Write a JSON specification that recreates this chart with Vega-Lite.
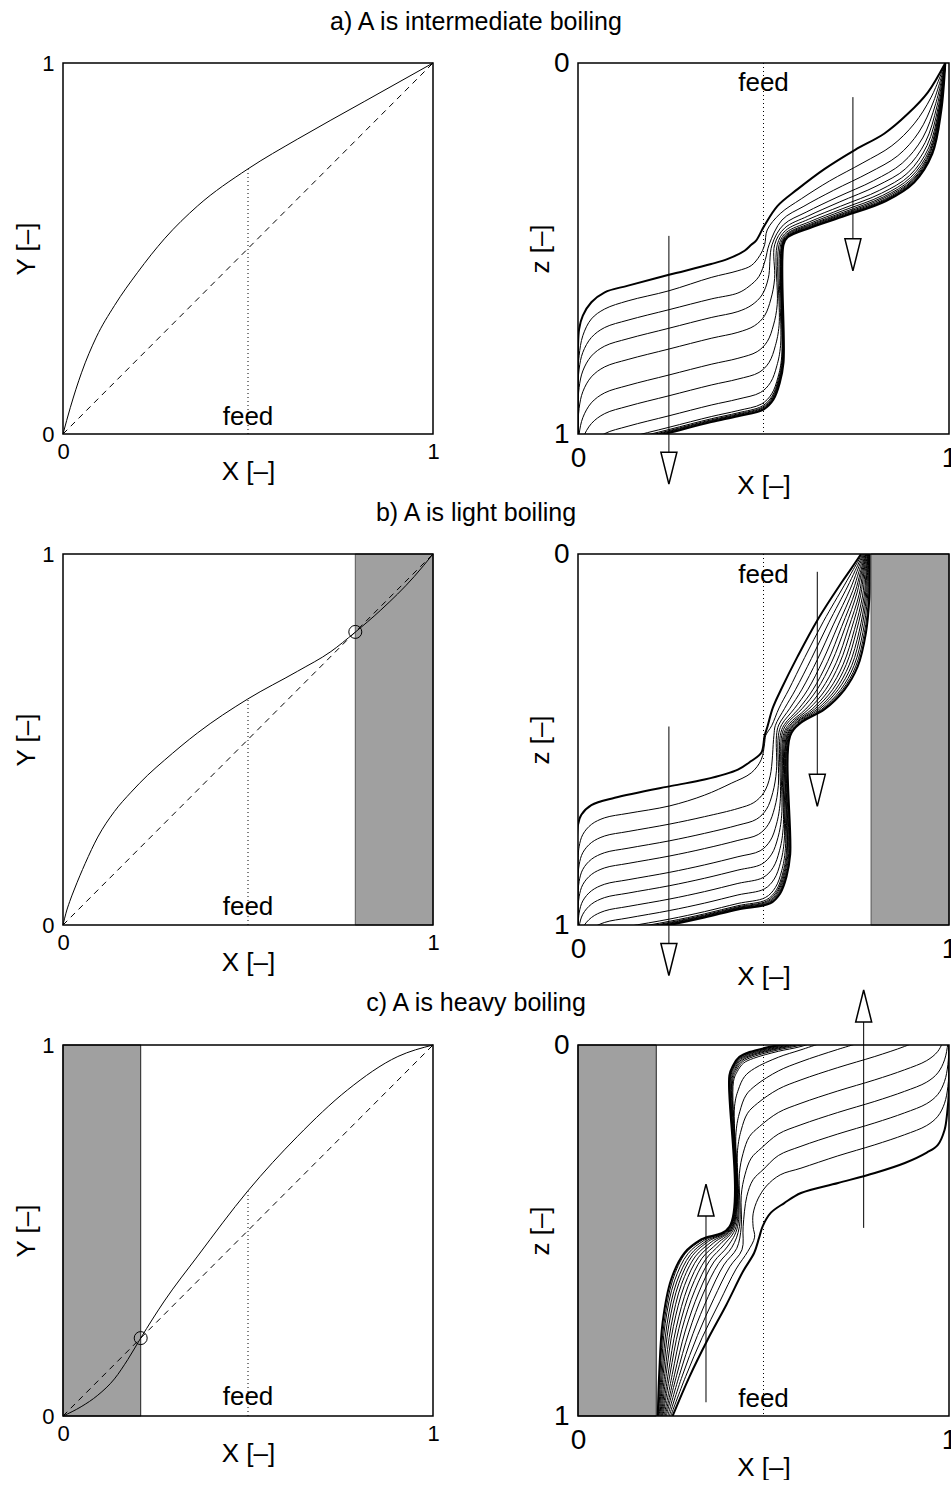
{
"$schema":"https://vega.github.io/schema/vega-lite/v6.json",
"background":"white",
"padding":{"left":13,"top":10,"right":0,"bottom":0},
"config":{"font":"Liberation Sans","view":{"stroke":null},
"axis":{"grid":false,"ticks":false,"tickSize":0,"domain":false,"titleFontSize":26,"titleFontWeight":"normal","labelColor":"black","titleColor":"black","format":"d"},
"title":{"fontSize":25,"fontWeight":"normal","color":"black"}},
"datasets":{
"aL":[{"x":0,"y":0},{"x":0.02,"y":0.072},{"x":0.05,"y":0.165},{"x":0.09,"y":0.261},{"x":0.139,"y":0.346},{"x":0.202,"y":0.436},{"x":0.274,"y":0.526},{"x":0.364,"y":0.615},{"x":0.499,"y":0.714},{"x":0.634,"y":0.795},{"x":0.814,"y":0.896},{"x":1,"y":1}],
"bL":[{"x":0,"y":0},{"x":0.008,"y":0.032},{"x":0.018,"y":0.063},{"x":0.031,"y":0.097},{"x":0.06,"y":0.166},{"x":0.094,"y":0.237},{"x":0.139,"y":0.306},{"x":0.184,"y":0.358},{"x":0.229,"y":0.404},{"x":0.274,"y":0.444},{"x":0.364,"y":0.518},{"x":0.499,"y":0.609},{"x":0.634,"y":0.684},{"x":0.724,"y":0.737},{"x":0.787,"y":0.787},{"x":0.859,"y":0.849},{"x":0.949,"y":0.939},{"x":1,"y":1}],
"cL":[{"x":0,"y":0},{"x":0.049,"y":0.025},{"x":0.094,"y":0.056},{"x":0.139,"y":0.1},{"x":0.175,"y":0.152},{"x":0.21,"y":0.21},{"x":0.274,"y":0.31},{"x":0.364,"y":0.431},{"x":0.499,"y":0.606},{"x":0.634,"y":0.754},{"x":0.769,"y":0.879},{"x":0.905,"y":0.969},{"x":1,"y":1}],
"aR":[
{"c":0,"x":0.99,"y":0},{"c":0,"x":0.943,"y":0.079},{"c":0,"x":0.889,"y":0.137},{"c":0,"x":0.826,"y":0.19},{"c":0,"x":0.747,"y":0.234},{"c":0,"x":0.664,"y":0.286},{"c":0,"x":0.592,"y":0.34},{"c":0,"x":0.538,"y":0.385},{"c":0,"x":0.502,"y":0.439},{"c":0,"x":0.48,"y":0.479},{"c":0,"x":0.467,"y":0.49},{"c":0,"x":0.449,"y":0.506},{"c":0,"x":0.404,"y":0.528},{"c":0,"x":0.359,"y":0.542},{"c":0,"x":0.245,"y":0.571},{"c":0,"x":0.135,"y":0.6},{"c":0,"x":0.072,"y":0.618},{"c":0,"x":0.036,"y":0.645},{"c":0,"x":0.013,"y":0.681},{"c":0,"x":0.003,"y":0.717},{"c":0,"x":0,"y":0.77},{"c":0,"x":0,"y":1.05},
{"c":1,"x":0.99,"y":0},{"c":1,"x":0.952,"y":0.092},{"c":1,"x":0.906,"y":0.164},{"c":1,"x":0.846,"y":0.223},{"c":1,"x":0.768,"y":0.269},{"c":1,"x":0.678,"y":0.318},{"c":1,"x":0.602,"y":0.366},{"c":1,"x":0.545,"y":0.406},{"c":1,"x":0.51,"y":0.45},{"c":1,"x":0.503,"y":0.49},{"c":1,"x":0.49,"y":0.519},{"c":1,"x":0.467,"y":0.546},{"c":1,"x":0.431,"y":0.56},{"c":1,"x":0.359,"y":0.578},{"c":1,"x":0.245,"y":0.614},{"c":1,"x":0.135,"y":0.641},{"c":1,"x":0.072,"y":0.663},{"c":1,"x":0.036,"y":0.69},{"c":1,"x":0.013,"y":0.735},{"c":1,"x":0.003,"y":0.789},{"c":1,"x":0,"y":0.85},{"c":1,"x":0,"y":1.05},
{"c":2,"x":0.99,"y":0},{"c":2,"x":0.959,"y":0.102},{"c":2,"x":0.919,"y":0.186},{"c":2,"x":0.862,"y":0.25},{"c":2,"x":0.784,"y":0.296},{"c":2,"x":0.689,"y":0.343},{"c":2,"x":0.609,"y":0.386},{"c":2,"x":0.55,"y":0.423},{"c":2,"x":0.515,"y":0.49},{"c":2,"x":0.505,"y":0.53},{"c":2,"x":0.488,"y":0.575},{"c":2,"x":0.461,"y":0.602},{"c":2,"x":0.431,"y":0.62},{"c":2,"x":0.359,"y":0.636},{"c":2,"x":0.245,"y":0.665},{"c":2,"x":0.135,"y":0.693},{"c":2,"x":0.072,"y":0.713},{"c":2,"x":0.036,"y":0.74},{"c":2,"x":0.013,"y":0.78},{"c":2,"x":0.003,"y":0.825},{"c":2,"x":0,"y":0.885},{"c":2,"x":0,"y":1.05},
{"c":3,"x":0.99,"y":0},{"c":3,"x":0.964,"y":0.11},{"c":3,"x":0.929,"y":0.202},{"c":3,"x":0.874,"y":0.27},{"c":3,"x":0.797,"y":0.317},{"c":3,"x":0.698,"y":0.362},{"c":3,"x":0.615,"y":0.402},{"c":3,"x":0.554,"y":0.436},{"c":3,"x":0.523,"y":0.49},{"c":3,"x":0.513,"y":0.58},{"c":3,"x":0.496,"y":0.625},{"c":3,"x":0.469,"y":0.652},{"c":3,"x":0.431,"y":0.67},{"c":3,"x":0.359,"y":0.686},{"c":3,"x":0.245,"y":0.715},{"c":3,"x":0.135,"y":0.743},{"c":3,"x":0.072,"y":0.763},{"c":3,"x":0.036,"y":0.79},{"c":3,"x":0.013,"y":0.83},{"c":3,"x":0.003,"y":0.875},{"c":3,"x":0,"y":0.935},{"c":3,"x":0,"y":1.05},
{"c":4,"x":0.99,"y":0},{"c":4,"x":0.968,"y":0.115},{"c":4,"x":0.936,"y":0.214},{"c":4,"x":0.883,"y":0.285},{"c":4,"x":0.806,"y":0.331},{"c":4,"x":0.704,"y":0.375},{"c":4,"x":0.619,"y":0.413},{"c":4,"x":0.557,"y":0.445},{"c":4,"x":0.53,"y":0.49},{"c":4,"x":0.53,"y":0.581},{"c":4,"x":0.52,"y":0.636},{"c":4,"x":0.503,"y":0.681},{"c":4,"x":0.476,"y":0.708},{"c":4,"x":0.431,"y":0.726},{"c":4,"x":0.359,"y":0.742},{"c":4,"x":0.245,"y":0.771},{"c":4,"x":0.135,"y":0.799},{"c":4,"x":0.072,"y":0.819},{"c":4,"x":0.036,"y":0.846},{"c":4,"x":0.013,"y":0.886},{"c":4,"x":0.003,"y":0.931},{"c":4,"x":0,"y":0.991},{"c":4,"x":0,"y":1.05},
{"c":5,"x":0.99,"y":0},{"c":5,"x":0.971,"y":0.119},{"c":5,"x":0.941,"y":0.222},{"c":5,"x":0.889,"y":0.296},{"c":5,"x":0.813,"y":0.343},{"c":5,"x":0.708,"y":0.386},{"c":5,"x":0.622,"y":0.421},{"c":5,"x":0.559,"y":0.452},{"c":5,"x":0.537,"y":0.49},{"c":5,"x":0.537,"y":0.651},{"c":5,"x":0.527,"y":0.706},{"c":5,"x":0.51,"y":0.751},{"c":5,"x":0.483,"y":0.778},{"c":5,"x":0.431,"y":0.796},{"c":5,"x":0.359,"y":0.812},{"c":5,"x":0.245,"y":0.841},{"c":5,"x":0.135,"y":0.869},{"c":5,"x":0.072,"y":0.889},{"c":5,"x":0.036,"y":0.916},{"c":5,"x":0.013,"y":0.956},{"c":5,"x":0.003,"y":1.001},{"c":5,"x":0,"y":1.06},
{"c":6,"x":0.99,"y":0},{"c":6,"x":0.973,"y":0.122},{"c":6,"x":0.945,"y":0.229},{"c":6,"x":0.894,"y":0.303},{"c":6,"x":0.818,"y":0.351},{"c":6,"x":0.712,"y":0.393},{"c":6,"x":0.624,"y":0.428},{"c":6,"x":0.561,"y":0.457},{"c":6,"x":0.542,"y":0.49},{"c":6,"x":0.542,"y":0.707},{"c":6,"x":0.532,"y":0.762},{"c":6,"x":0.515,"y":0.807},{"c":6,"x":0.488,"y":0.834},{"c":6,"x":0.431,"y":0.852},{"c":6,"x":0.359,"y":0.868},{"c":6,"x":0.245,"y":0.897},{"c":6,"x":0.135,"y":0.925},{"c":6,"x":0.072,"y":0.945},{"c":6,"x":0.036,"y":0.972},{"c":6,"x":0.013,"y":1.012},{"c":6,"x":0.003,"y":1.057},
{"c":7,"x":0.99,"y":0},{"c":7,"x":0.974,"y":0.124},{"c":7,"x":0.948,"y":0.233},{"c":7,"x":0.897,"y":0.308},{"c":7,"x":0.821,"y":0.357},{"c":7,"x":0.714,"y":0.398},{"c":7,"x":0.626,"y":0.432},{"c":7,"x":0.562,"y":0.461},{"c":7,"x":0.546,"y":0.49},{"c":7,"x":0.546,"y":0.761},{"c":7,"x":0.536,"y":0.816},{"c":7,"x":0.519,"y":0.861},{"c":7,"x":0.492,"y":0.888},{"c":7,"x":0.431,"y":0.906},{"c":7,"x":0.359,"y":0.922},{"c":7,"x":0.245,"y":0.951},{"c":7,"x":0.135,"y":0.979},{"c":7,"x":0.072,"y":0.999},{"c":7,"x":0.036,"y":1.026},{"c":7,"x":0.013,"y":1.066},
{"c":8,"x":0.99,"y":0},{"c":8,"x":0.975,"y":0.126},{"c":8,"x":0.95,"y":0.236},{"c":8,"x":0.9,"y":0.312},{"c":8,"x":0.823,"y":0.361},{"c":8,"x":0.716,"y":0.402},{"c":8,"x":0.627,"y":0.435},{"c":8,"x":0.563,"y":0.463},{"c":8,"x":0.549,"y":0.49},{"c":8,"x":0.549,"y":0.792},{"c":8,"x":0.539,"y":0.847},{"c":8,"x":0.522,"y":0.892},{"c":8,"x":0.495,"y":0.919},{"c":8,"x":0.431,"y":0.937},{"c":8,"x":0.359,"y":0.953},{"c":8,"x":0.245,"y":0.982},{"c":8,"x":0.135,"y":1.01},{"c":8,"x":0.072,"y":1.03},
{"c":9,"x":0.99,"y":0},{"c":9,"x":0.976,"y":0.127},{"c":9,"x":0.951,"y":0.239},{"c":9,"x":0.902,"y":0.315},{"c":9,"x":0.825,"y":0.364},{"c":9,"x":0.717,"y":0.405},{"c":9,"x":0.628,"y":0.437},{"c":9,"x":0.564,"y":0.465},{"c":9,"x":0.55,"y":0.49},{"c":9,"x":0.55,"y":0.798},{"c":9,"x":0.54,"y":0.853},{"c":9,"x":0.523,"y":0.898},{"c":9,"x":0.496,"y":0.925},{"c":9,"x":0.431,"y":0.943},{"c":9,"x":0.359,"y":0.959},{"c":9,"x":0.245,"y":0.988},{"c":9,"x":0.135,"y":1.016},{"c":9,"x":0.072,"y":1.036},
{"c":10,"x":0.99,"y":0},{"c":10,"x":0.977,"y":0.128},{"c":10,"x":0.953,"y":0.241},{"c":10,"x":0.903,"y":0.317},{"c":10,"x":0.827,"y":0.367},{"c":10,"x":0.718,"y":0.407},{"c":10,"x":0.629,"y":0.439},{"c":10,"x":0.564,"y":0.467},{"c":10,"x":0.551,"y":0.49},{"c":10,"x":0.551,"y":0.801},{"c":10,"x":0.541,"y":0.856},{"c":10,"x":0.524,"y":0.901},{"c":10,"x":0.497,"y":0.928},{"c":10,"x":0.431,"y":0.946},{"c":10,"x":0.359,"y":0.962},{"c":10,"x":0.245,"y":0.991},{"c":10,"x":0.135,"y":1.019},{"c":10,"x":0.072,"y":1.039},
{"c":11,"x":0.99,"y":0},{"c":11,"x":0.977,"y":0.129},{"c":11,"x":0.954,"y":0.243},{"c":11,"x":0.904,"y":0.319},{"c":11,"x":0.828,"y":0.369},{"c":11,"x":0.719,"y":0.409},{"c":11,"x":0.629,"y":0.441},{"c":11,"x":0.564,"y":0.468},{"c":11,"x":0.552,"y":0.49},{"c":11,"x":0.552,"y":0.803},{"c":11,"x":0.542,"y":0.858},{"c":11,"x":0.525,"y":0.903},{"c":11,"x":0.498,"y":0.93},{"c":11,"x":0.431,"y":0.948},{"c":11,"x":0.359,"y":0.964},{"c":11,"x":0.245,"y":0.993},{"c":11,"x":0.135,"y":1.021},{"c":11,"x":0.072,"y":1.041},
{"c":12,"x":0.99,"y":0},{"c":12,"x":0.978,"y":0.13},{"c":12,"x":0.954,"y":0.244},{"c":12,"x":0.905,"y":0.321},{"c":12,"x":0.829,"y":0.371},{"c":12,"x":0.719,"y":0.411},{"c":12,"x":0.63,"y":0.442},{"c":12,"x":0.565,"y":0.469},{"c":12,"x":0.553,"y":0.49},{"c":12,"x":0.553,"y":0.805},{"c":12,"x":0.543,"y":0.86},{"c":12,"x":0.526,"y":0.905},{"c":12,"x":0.499,"y":0.932},{"c":12,"x":0.431,"y":0.95},{"c":12,"x":0.359,"y":0.966},{"c":12,"x":0.245,"y":0.995},{"c":12,"x":0.135,"y":1.023},
{"c":13,"x":0.99,"y":0},{"c":13,"x":0.979,"y":0.13},{"c":13,"x":0.955,"y":0.245},{"c":13,"x":0.906,"y":0.322},{"c":13,"x":0.83,"y":0.372},{"c":13,"x":0.72,"y":0.412},{"c":13,"x":0.63,"y":0.443},{"c":13,"x":0.565,"y":0.47},{"c":13,"x":0.554,"y":0.49},{"c":13,"x":0.554,"y":0.807},{"c":13,"x":0.544,"y":0.862},{"c":13,"x":0.527,"y":0.907},{"c":13,"x":0.5,"y":0.934},{"c":13,"x":0.431,"y":0.952},{"c":13,"x":0.359,"y":0.968},{"c":13,"x":0.245,"y":0.997},{"c":13,"x":0.135,"y":1.025}
],
"bR":[
{"c":0,"x":0.763,"y":0},{"c":0,"x":0.736,"y":0.04},{"c":0,"x":0.709,"y":0.079},{"c":0,"x":0.646,"y":0.177},{"c":0,"x":0.592,"y":0.276},{"c":0,"x":0.547,"y":0.366},{"c":0,"x":0.525,"y":0.415},{"c":0,"x":0.511,"y":0.464},{"c":0,"x":0.503,"y":0.49},{"c":0,"x":0.494,"y":0.536},{"c":0,"x":0.467,"y":0.558},{"c":0,"x":0.431,"y":0.581},{"c":0,"x":0.341,"y":0.608},{"c":0,"x":0.252,"y":0.625},{"c":0,"x":0.099,"y":0.657},{"c":0,"x":0.036,"y":0.677},{"c":0,"x":0.009,"y":0.703},{"c":0,"x":0,"y":0.73},{"c":0,"x":0,"y":1.05},
{"c":1,"x":0.766,"y":0},{"c":1,"x":0.742,"y":0.042},{"c":1,"x":0.718,"y":0.084},{"c":1,"x":0.662,"y":0.181},{"c":1,"x":0.611,"y":0.279},{"c":1,"x":0.568,"y":0.366},{"c":1,"x":0.542,"y":0.415},{"c":1,"x":0.522,"y":0.463},{"c":1,"x":0.506,"y":0.489},{"c":1,"x":0.503,"y":0.51},{"c":1,"x":0.494,"y":0.554},{"c":1,"x":0.467,"y":0.59},{"c":1,"x":0.413,"y":0.618},{"c":1,"x":0.341,"y":0.65},{"c":1,"x":0.247,"y":0.679},{"c":1,"x":0.135,"y":0.699},{"c":1,"x":0.072,"y":0.711},{"c":1,"x":0.036,"y":0.729},{"c":1,"x":0.013,"y":0.756},{"c":1,"x":0.003,"y":0.789},{"c":1,"x":0,"y":0.84},{"c":1,"x":0,"y":1.05},
{"c":2,"x":0.768,"y":0},{"c":2,"x":0.747,"y":0.045},{"c":2,"x":0.726,"y":0.089},{"c":2,"x":0.676,"y":0.185},{"c":2,"x":0.629,"y":0.282},{"c":2,"x":0.586,"y":0.366},{"c":2,"x":0.557,"y":0.416},{"c":2,"x":0.532,"y":0.462},{"c":2,"x":0.528,"y":0.49},{"c":2,"x":0.518,"y":0.598},{"c":2,"x":0.501,"y":0.643},{"c":2,"x":0.474,"y":0.67},{"c":2,"x":0.431,"y":0.686},{"c":2,"x":0.341,"y":0.708},{"c":2,"x":0.247,"y":0.728},{"c":2,"x":0.135,"y":0.748},{"c":2,"x":0.072,"y":0.76},{"c":2,"x":0.036,"y":0.778},{"c":2,"x":0.013,"y":0.805},{"c":2,"x":0.003,"y":0.838},{"c":2,"x":0,"y":0.888},{"c":2,"x":0,"y":1.05},
{"c":3,"x":0.77,"y":0},{"c":3,"x":0.752,"y":0.047},{"c":3,"x":0.734,"y":0.094},{"c":3,"x":0.689,"y":0.189},{"c":3,"x":0.645,"y":0.285},{"c":3,"x":0.603,"y":0.366},{"c":3,"x":0.571,"y":0.416},{"c":3,"x":0.541,"y":0.461},{"c":3,"x":0.535,"y":0.49},{"c":3,"x":0.535,"y":0.583},{"c":3,"x":0.525,"y":0.643},{"c":3,"x":0.508,"y":0.688},{"c":3,"x":0.481,"y":0.715},{"c":3,"x":0.431,"y":0.731},{"c":3,"x":0.341,"y":0.753},{"c":3,"x":0.247,"y":0.773},{"c":3,"x":0.135,"y":0.793},{"c":3,"x":0.072,"y":0.805},{"c":3,"x":0.036,"y":0.823},{"c":3,"x":0.013,"y":0.85},{"c":3,"x":0.003,"y":0.883},{"c":3,"x":0,"y":0.933},{"c":3,"x":0,"y":1.05},
{"c":4,"x":0.772,"y":0},{"c":4,"x":0.757,"y":0.048},{"c":4,"x":0.741,"y":0.098},{"c":4,"x":0.701,"y":0.192},{"c":4,"x":0.66,"y":0.287},{"c":4,"x":0.619,"y":0.366},{"c":4,"x":0.583,"y":0.417},{"c":4,"x":0.549,"y":0.46},{"c":4,"x":0.54,"y":0.49},{"c":4,"x":0.54,"y":0.624},{"c":4,"x":0.53,"y":0.684},{"c":4,"x":0.513,"y":0.729},{"c":4,"x":0.486,"y":0.756},{"c":4,"x":0.431,"y":0.772},{"c":4,"x":0.341,"y":0.794},{"c":4,"x":0.247,"y":0.814},{"c":4,"x":0.135,"y":0.834},{"c":4,"x":0.072,"y":0.846},{"c":4,"x":0.036,"y":0.864},{"c":4,"x":0.013,"y":0.891},{"c":4,"x":0.003,"y":0.924},{"c":4,"x":0,"y":0.974},{"c":4,"x":0,"y":1.05},
{"c":5,"x":0.774,"y":0},{"c":5,"x":0.761,"y":0.05},{"c":5,"x":0.747,"y":0.102},{"c":5,"x":0.711,"y":0.195},{"c":5,"x":0.673,"y":0.29},{"c":5,"x":0.633,"y":0.366},{"c":5,"x":0.595,"y":0.417},{"c":5,"x":0.556,"y":0.46},{"c":5,"x":0.545,"y":0.49},{"c":5,"x":0.545,"y":0.668},{"c":5,"x":0.535,"y":0.728},{"c":5,"x":0.518,"y":0.773},{"c":5,"x":0.491,"y":0.8},{"c":5,"x":0.431,"y":0.816},{"c":5,"x":0.341,"y":0.838},{"c":5,"x":0.247,"y":0.858},{"c":5,"x":0.135,"y":0.878},{"c":5,"x":0.072,"y":0.89},{"c":5,"x":0.036,"y":0.908},{"c":5,"x":0.013,"y":0.935},{"c":5,"x":0.003,"y":0.968},{"c":5,"x":0,"y":1.018},
{"c":6,"x":0.776,"y":0},{"c":6,"x":0.764,"y":0.051},{"c":6,"x":0.752,"y":0.105},{"c":6,"x":0.72,"y":0.198},{"c":6,"x":0.684,"y":0.291},{"c":6,"x":0.644,"y":0.366},{"c":6,"x":0.604,"y":0.417},{"c":6,"x":0.562,"y":0.459},{"c":6,"x":0.549,"y":0.49},{"c":6,"x":0.549,"y":0.704},{"c":6,"x":0.539,"y":0.764},{"c":6,"x":0.522,"y":0.809},{"c":6,"x":0.495,"y":0.836},{"c":6,"x":0.431,"y":0.852},{"c":6,"x":0.341,"y":0.874},{"c":6,"x":0.247,"y":0.894},{"c":6,"x":0.135,"y":0.914},{"c":6,"x":0.072,"y":0.926},{"c":6,"x":0.036,"y":0.944},{"c":6,"x":0.013,"y":0.971},{"c":6,"x":0.003,"y":1.004},{"c":6,"x":0,"y":1.054},
{"c":7,"x":0.777,"y":0},{"c":7,"x":0.767,"y":0.053},{"c":7,"x":0.758,"y":0.108},{"c":7,"x":0.729,"y":0.2},{"c":7,"x":0.696,"y":0.293},{"c":7,"x":0.656,"y":0.366},{"c":7,"x":0.614,"y":0.418},{"c":7,"x":0.569,"y":0.458},{"c":7,"x":0.553,"y":0.49},{"c":7,"x":0.553,"y":0.74},{"c":7,"x":0.543,"y":0.8},{"c":7,"x":0.526,"y":0.845},{"c":7,"x":0.499,"y":0.872},{"c":7,"x":0.431,"y":0.888},{"c":7,"x":0.341,"y":0.91},{"c":7,"x":0.247,"y":0.93},{"c":7,"x":0.135,"y":0.95},{"c":7,"x":0.072,"y":0.962},{"c":7,"x":0.036,"y":0.98},{"c":7,"x":0.013,"y":1.007},{"c":7,"x":0.003,"y":1.04},
{"c":8,"x":0.778,"y":0},{"c":8,"x":0.77,"y":0.054},{"c":8,"x":0.762,"y":0.111},{"c":8,"x":0.737,"y":0.202},{"c":8,"x":0.705,"y":0.295},{"c":8,"x":0.667,"y":0.366},{"c":8,"x":0.622,"y":0.418},{"c":8,"x":0.574,"y":0.458},{"c":8,"x":0.556,"y":0.49},{"c":8,"x":0.556,"y":0.771},{"c":8,"x":0.546,"y":0.831},{"c":8,"x":0.529,"y":0.876},{"c":8,"x":0.502,"y":0.903},{"c":8,"x":0.431,"y":0.919},{"c":8,"x":0.341,"y":0.941},{"c":8,"x":0.247,"y":0.961},{"c":8,"x":0.135,"y":0.981},{"c":8,"x":0.072,"y":0.993},{"c":8,"x":0.036,"y":1.011},{"c":8,"x":0.013,"y":1.038},
{"c":9,"x":0.78,"y":0},{"c":9,"x":0.773,"y":0.055},{"c":9,"x":0.767,"y":0.113},{"c":9,"x":0.745,"y":0.204},{"c":9,"x":0.715,"y":0.297},{"c":9,"x":0.677,"y":0.366},{"c":9,"x":0.631,"y":0.418},{"c":9,"x":0.579,"y":0.457},{"c":9,"x":0.559,"y":0.49},{"c":9,"x":0.559,"y":0.794},{"c":9,"x":0.549,"y":0.854},{"c":9,"x":0.532,"y":0.899},{"c":9,"x":0.505,"y":0.926},{"c":9,"x":0.431,"y":0.942},{"c":9,"x":0.341,"y":0.964},{"c":9,"x":0.247,"y":0.984},{"c":9,"x":0.135,"y":1.004},{"c":9,"x":0.072,"y":1.016},
{"c":10,"x":0.781,"y":0},{"c":10,"x":0.776,"y":0.056},{"c":10,"x":0.771,"y":0.115},{"c":10,"x":0.751,"y":0.206},{"c":10,"x":0.723,"y":0.298},{"c":10,"x":0.686,"y":0.366},{"c":10,"x":0.638,"y":0.418},{"c":10,"x":0.584,"y":0.457},{"c":10,"x":0.562,"y":0.49},{"c":10,"x":0.562,"y":0.8},{"c":10,"x":0.552,"y":0.86},{"c":10,"x":0.535,"y":0.905},{"c":10,"x":0.508,"y":0.932},{"c":10,"x":0.431,"y":0.948},{"c":10,"x":0.341,"y":0.97},{"c":10,"x":0.247,"y":0.99},{"c":10,"x":0.135,"y":1.01},{"c":10,"x":0.072,"y":1.022},
{"c":11,"x":0.782,"y":0},{"c":11,"x":0.778,"y":0.057},{"c":11,"x":0.774,"y":0.118},{"c":11,"x":0.758,"y":0.208},{"c":11,"x":0.731,"y":0.299},{"c":11,"x":0.694,"y":0.366},{"c":11,"x":0.645,"y":0.418},{"c":11,"x":0.588,"y":0.456},{"c":11,"x":0.564,"y":0.49},{"c":11,"x":0.564,"y":0.803},{"c":11,"x":0.554,"y":0.863},{"c":11,"x":0.537,"y":0.908},{"c":11,"x":0.51,"y":0.935},{"c":11,"x":0.431,"y":0.951},{"c":11,"x":0.341,"y":0.973},{"c":11,"x":0.247,"y":0.993},{"c":11,"x":0.135,"y":1.013},{"c":11,"x":0.072,"y":1.025},
{"c":12,"x":0.783,"y":0},{"c":12,"x":0.78,"y":0.058},{"c":12,"x":0.777,"y":0.12},{"c":12,"x":0.763,"y":0.209},{"c":12,"x":0.738,"y":0.3},{"c":12,"x":0.701,"y":0.366},{"c":12,"x":0.65,"y":0.419},{"c":12,"x":0.592,"y":0.456},{"c":12,"x":0.566,"y":0.49},{"c":12,"x":0.566,"y":0.805},{"c":12,"x":0.556,"y":0.865},{"c":12,"x":0.539,"y":0.91},{"c":12,"x":0.512,"y":0.937},{"c":12,"x":0.431,"y":0.953},{"c":12,"x":0.341,"y":0.975},{"c":12,"x":0.247,"y":0.995},{"c":12,"x":0.135,"y":1.015},{"c":12,"x":0.072,"y":1.027},
{"c":13,"x":0.784,"y":0},{"c":13,"x":0.782,"y":0.059},{"c":13,"x":0.78,"y":0.121},{"c":13,"x":0.768,"y":0.211},{"c":13,"x":0.744,"y":0.301},{"c":13,"x":0.708,"y":0.366},{"c":13,"x":0.656,"y":0.419},{"c":13,"x":0.596,"y":0.456},{"c":13,"x":0.568,"y":0.49},{"c":13,"x":0.568,"y":0.807},{"c":13,"x":0.558,"y":0.867},{"c":13,"x":0.541,"y":0.912},{"c":13,"x":0.514,"y":0.939},{"c":13,"x":0.431,"y":0.955},{"c":13,"x":0.341,"y":0.977},{"c":13,"x":0.247,"y":0.997},{"c":13,"x":0.135,"y":1.017},
{"c":14,"x":0.785,"y":0},{"c":14,"x":0.784,"y":0.059},{"c":14,"x":0.783,"y":0.123},{"c":14,"x":0.772,"y":0.212},{"c":14,"x":0.749,"y":0.302},{"c":14,"x":0.713,"y":0.366},{"c":14,"x":0.66,"y":0.419},{"c":14,"x":0.598,"y":0.455},{"c":14,"x":0.57,"y":0.49},{"c":14,"x":0.57,"y":0.808},{"c":14,"x":0.56,"y":0.868},{"c":14,"x":0.543,"y":0.913},{"c":14,"x":0.516,"y":0.94},{"c":14,"x":0.431,"y":0.956},{"c":14,"x":0.341,"y":0.978},{"c":14,"x":0.247,"y":0.998},{"c":14,"x":0.135,"y":1.018},
{"c":15,"x":0.786,"y":0},{"c":15,"x":0.786,"y":0.06},{"c":15,"x":0.785,"y":0.124},{"c":15,"x":0.776,"y":0.213},{"c":15,"x":0.754,"y":0.303},{"c":15,"x":0.718,"y":0.366},{"c":15,"x":0.664,"y":0.419},{"c":15,"x":0.601,"y":0.455},{"c":15,"x":0.572,"y":0.49},{"c":15,"x":0.572,"y":0.81},{"c":15,"x":0.562,"y":0.87},{"c":15,"x":0.545,"y":0.915},{"c":15,"x":0.518,"y":0.942},{"c":15,"x":0.431,"y":0.958},{"c":15,"x":0.341,"y":0.98},{"c":15,"x":0.247,"y":1.0},{"c":15,"x":0.135,"y":1.02}
],
"cR":[
{"c":0,"x":0.255,"y":1},{"c":0,"x":0.3,"y":0.895},{"c":0,"x":0.35,"y":0.793},{"c":0,"x":0.4,"y":0.7},{"c":0,"x":0.445,"y":0.61},{"c":0,"x":0.475,"y":0.56},{"c":0,"x":0.488,"y":0.52},{"c":0,"x":0.498,"y":0.488},{"c":0,"x":0.52,"y":0.452},{"c":0,"x":0.556,"y":0.426},{"c":0,"x":0.601,"y":0.399},{"c":0,"x":0.701,"y":0.372},{"c":0,"x":0.8,"y":0.345},{"c":0,"x":0.881,"y":0.318},{"c":0,"x":0.94,"y":0.29},{"c":0,"x":0.97,"y":0.269},{"c":0,"x":0.988,"y":0.229},{"c":0,"x":0.995,"y":0.184},{"c":0,"x":1,"y":0.12},{"c":0,"x":1,"y":-0.05},
{"c":1,"x":0.25,"y":1},{"c":1,"x":0.29,"y":0.894},{"c":1,"x":0.335,"y":0.788},{"c":1,"x":0.382,"y":0.692},{"c":1,"x":0.426,"y":0.604},{"c":1,"x":0.458,"y":0.556},{"c":1,"x":0.476,"y":0.518},{"c":1,"x":0.472,"y":0.49},{"c":1,"x":0.472,"y":0.455},{"c":1,"x":0.485,"y":0.415},{"c":1,"x":0.508,"y":0.38},{"c":1,"x":0.545,"y":0.35},{"c":1,"x":0.601,"y":0.332},{"c":1,"x":0.7,"y":0.299},{"c":1,"x":0.8,"y":0.269},{"c":1,"x":0.88,"y":0.242},{"c":1,"x":0.94,"y":0.217},{"c":1,"x":0.97,"y":0.192},{"c":1,"x":0.988,"y":0.157},{"c":1,"x":0.997,"y":0.112},{"c":1,"x":1,"y":0.052},{"c":1,"x":1,"y":-0.05},
{"c":2,"x":0.246,"y":1},{"c":2,"x":0.281,"y":0.892},{"c":2,"x":0.322,"y":0.783},{"c":2,"x":0.366,"y":0.684},{"c":2,"x":0.409,"y":0.598},{"c":2,"x":0.442,"y":0.552},{"c":2,"x":0.445,"y":0.49},{"c":2,"x":0.455,"y":0.408},{"c":2,"x":0.472,"y":0.363},{"c":2,"x":0.499,"y":0.336},{"c":2,"x":0.54,"y":0.298},{"c":2,"x":0.601,"y":0.273},{"c":2,"x":0.7,"y":0.24},{"c":2,"x":0.8,"y":0.21},{"c":2,"x":0.88,"y":0.183},{"c":2,"x":0.94,"y":0.158},{"c":2,"x":0.97,"y":0.133},{"c":2,"x":0.988,"y":0.098},{"c":2,"x":0.997,"y":0.053},{"c":2,"x":1,"y":-0.007},{"c":2,"x":1,"y":-0.05},
{"c":3,"x":0.242,"y":1},{"c":3,"x":0.273,"y":0.891},{"c":3,"x":0.31,"y":0.778},{"c":3,"x":0.351,"y":0.678},{"c":3,"x":0.393,"y":0.593},{"c":3,"x":0.428,"y":0.548},{"c":3,"x":0.44,"y":0.49},{"c":3,"x":0.44,"y":0.405},{"c":3,"x":0.45,"y":0.35},{"c":3,"x":0.467,"y":0.305},{"c":3,"x":0.494,"y":0.278},{"c":3,"x":0.54,"y":0.24},{"c":3,"x":0.601,"y":0.215},{"c":3,"x":0.7,"y":0.182},{"c":3,"x":0.8,"y":0.152},{"c":3,"x":0.88,"y":0.125},{"c":3,"x":0.94,"y":0.1},{"c":3,"x":0.97,"y":0.075},{"c":3,"x":0.988,"y":0.04},{"c":3,"x":0.997,"y":-0.005},{"c":3,"x":1,"y":-0.05},
{"c":4,"x":0.238,"y":1},{"c":4,"x":0.266,"y":0.89},{"c":4,"x":0.299,"y":0.774},{"c":4,"x":0.337,"y":0.671},{"c":4,"x":0.379,"y":0.589},{"c":4,"x":0.415,"y":0.545},{"c":4,"x":0.435,"y":0.49},{"c":4,"x":0.435,"y":0.347},{"c":4,"x":0.445,"y":0.292},{"c":4,"x":0.462,"y":0.247},{"c":4,"x":0.489,"y":0.22},{"c":4,"x":0.54,"y":0.182},{"c":4,"x":0.601,"y":0.157},{"c":4,"x":0.7,"y":0.124},{"c":4,"x":0.8,"y":0.094},{"c":4,"x":0.88,"y":0.067},{"c":4,"x":0.94,"y":0.042},{"c":4,"x":0.97,"y":0.017},{"c":4,"x":0.988,"y":-0.018},
{"c":5,"x":0.235,"y":1},{"c":5,"x":0.26,"y":0.889},{"c":5,"x":0.289,"y":0.771},{"c":5,"x":0.326,"y":0.666},{"c":5,"x":0.366,"y":0.585},{"c":5,"x":0.404,"y":0.542},{"c":5,"x":0.43,"y":0.49},{"c":5,"x":0.43,"y":0.284},{"c":5,"x":0.44,"y":0.229},{"c":5,"x":0.457,"y":0.184},{"c":5,"x":0.484,"y":0.157},{"c":5,"x":0.54,"y":0.119},{"c":5,"x":0.601,"y":0.094},{"c":5,"x":0.7,"y":0.061},{"c":5,"x":0.8,"y":0.031},{"c":5,"x":0.88,"y":0.004},{"c":5,"x":0.94,"y":-0.021},
{"c":6,"x":0.232,"y":1},{"c":6,"x":0.254,"y":0.888},{"c":6,"x":0.28,"y":0.767},{"c":6,"x":0.315,"y":0.661},{"c":6,"x":0.355,"y":0.581},{"c":6,"x":0.393,"y":0.539},{"c":6,"x":0.426,"y":0.49},{"c":6,"x":0.426,"y":0.235},{"c":6,"x":0.436,"y":0.18},{"c":6,"x":0.453,"y":0.135},{"c":6,"x":0.48,"y":0.108},{"c":6,"x":0.54,"y":0.07},{"c":6,"x":0.601,"y":0.045},{"c":6,"x":0.7,"y":0.012},{"c":6,"x":0.8,"y":-0.018},
{"c":7,"x":0.229,"y":1},{"c":7,"x":0.248,"y":0.887},{"c":7,"x":0.272,"y":0.764},{"c":7,"x":0.305,"y":0.656},{"c":7,"x":0.344,"y":0.578},{"c":7,"x":0.383,"y":0.537},{"c":7,"x":0.422,"y":0.49},{"c":7,"x":0.422,"y":0.165},{"c":7,"x":0.432,"y":0.121},{"c":7,"x":0.449,"y":0.085},{"c":7,"x":0.476,"y":0.063},{"c":7,"x":0.54,"y":0.033},{"c":7,"x":0.601,"y":0.013},{"c":7,"x":0.7,"y":-0.02},
{"c":8,"x":0.227,"y":1},{"c":8,"x":0.243,"y":0.887},{"c":8,"x":0.265,"y":0.761},{"c":8,"x":0.296,"y":0.652},{"c":8,"x":0.334,"y":0.575},{"c":8,"x":0.375,"y":0.535},{"c":8,"x":0.419,"y":0.49},{"c":8,"x":0.419,"y":0.099},{"c":8,"x":0.429,"y":0.072},{"c":8,"x":0.446,"y":0.049},{"c":8,"x":0.473,"y":0.036},{"c":8,"x":0.54,"y":0.017},{"c":8,"x":0.601,"y":0.004},{"c":8,"x":0.7,"y":-0.029},
{"c":9,"x":0.225,"y":1},{"c":9,"x":0.238,"y":0.886},{"c":9,"x":0.257,"y":0.759},{"c":9,"x":0.287,"y":0.648},{"c":9,"x":0.325,"y":0.572},{"c":9,"x":0.366,"y":0.533},{"c":9,"x":0.417,"y":0.49},{"c":9,"x":0.417,"y":0.095},{"c":9,"x":0.427,"y":0.068},{"c":9,"x":0.444,"y":0.045},{"c":9,"x":0.471,"y":0.032},{"c":9,"x":0.54,"y":0.013},{"c":9,"x":0.601,"y":0},{"c":9,"x":0.7,"y":-0.033},
{"c":10,"x":0.223,"y":1},{"c":10,"x":0.234,"y":0.885},{"c":10,"x":0.251,"y":0.757},{"c":10,"x":0.279,"y":0.645},{"c":10,"x":0.317,"y":0.569},{"c":10,"x":0.359,"y":0.531},{"c":10,"x":0.415,"y":0.49},{"c":10,"x":0.415,"y":0.092},{"c":10,"x":0.425,"y":0.065},{"c":10,"x":0.442,"y":0.042},{"c":10,"x":0.469,"y":0.029},{"c":10,"x":0.54,"y":0.01},{"c":10,"x":0.601,"y":-0.003},{"c":10,"x":0.7,"y":-0.036},
{"c":11,"x":0.221,"y":1},{"c":11,"x":0.23,"y":0.885},{"c":11,"x":0.245,"y":0.754},{"c":11,"x":0.272,"y":0.642},{"c":11,"x":0.309,"y":0.567},{"c":11,"x":0.352,"y":0.529},{"c":11,"x":0.413,"y":0.49},{"c":11,"x":0.413,"y":0.09},{"c":11,"x":0.423,"y":0.063},{"c":11,"x":0.44,"y":0.04},{"c":11,"x":0.467,"y":0.027},{"c":11,"x":0.54,"y":0.008},{"c":11,"x":0.601,"y":-0.005},{"c":11,"x":0.7,"y":-0.04},
{"c":12,"x":0.219,"y":1},{"c":12,"x":0.227,"y":0.884},{"c":12,"x":0.24,"y":0.752},{"c":12,"x":0.266,"y":0.639},{"c":12,"x":0.303,"y":0.565},{"c":12,"x":0.346,"y":0.528},{"c":12,"x":0.411,"y":0.49},{"c":12,"x":0.411,"y":0.088},{"c":12,"x":0.421,"y":0.061},{"c":12,"x":0.438,"y":0.038},{"c":12,"x":0.465,"y":0.025},{"c":12,"x":0.54,"y":0.006},{"c":12,"x":0.601,"y":-0.007},{"c":12,"x":0.7,"y":-0.04},
{"c":13,"x":0.217,"y":1},{"c":13,"x":0.224,"y":0.884},{"c":13,"x":0.235,"y":0.751},{"c":13,"x":0.26,"y":0.636},{"c":13,"x":0.296,"y":0.563},{"c":13,"x":0.341,"y":0.526},{"c":13,"x":0.41,"y":0.49},{"c":13,"x":0.41,"y":0.086},{"c":13,"x":0.42,"y":0.059},{"c":13,"x":0.437,"y":0.036},{"c":13,"x":0.464,"y":0.023},{"c":13,"x":0.54,"y":0.004},{"c":13,"x":0.601,"y":-0.009},{"c":13,"x":0.7,"y":-0.04},
{"c":14,"x":0.216,"y":1},{"c":14,"x":0.221,"y":0.883},{"c":14,"x":0.232,"y":0.749},{"c":14,"x":0.255,"y":0.634},{"c":14,"x":0.29,"y":0.561},{"c":14,"x":0.336,"y":0.525},{"c":14,"x":0.409,"y":0.49},{"c":14,"x":0.409,"y":0.084},{"c":14,"x":0.419,"y":0.057},{"c":14,"x":0.436,"y":0.034},{"c":14,"x":0.463,"y":0.021},{"c":14,"x":0.54,"y":0.002},{"c":14,"x":0.601,"y":-0.011},{"c":14,"x":0.7,"y":-0.04},
{"c":15,"x":0.215,"y":1},{"c":15,"x":0.219,"y":0.883},{"c":15,"x":0.228,"y":0.748},{"c":15,"x":0.251,"y":0.632},{"c":15,"x":0.287,"y":0.56},{"c":15,"x":0.332,"y":0.524},{"c":15,"x":0.408,"y":0.49},{"c":15,"x":0.408,"y":0.082},{"c":15,"x":0.418,"y":0.055},{"c":15,"x":0.435,"y":0.032},{"c":15,"x":0.462,"y":0.019},{"c":15,"x":0.54,"y":0},{"c":15,"x":0.601,"y":-0.013},{"c":15,"x":0.7,"y":-0.04}
]
},
"spacing":3,
"vconcat":[
{"hconcat":[
{"width":370,"height":371,
"title":{"text":"a) A is intermediate boiling","anchor":"middle","frame":"group","dx":228,"offset":17},
"encoding":{"x":{"field":"x","type":"quantitative","scale":{"domain":[0,1],"nice":false,"zero":false},"axis":{"values":[0,1],"title":"X [–]","labelFontSize":22,"labelPadding":7,"titlePadding":-4,"labelFlush":false}},
"y":{"field":"y","type":"quantitative","scale":{"domain":[0,1],"nice":false,"zero":false},"axis":{"values":[0,1],"title":"Y [–]","labelFontSize":22,"labelPadding":9,"titlePadding":2}}},
"layer":[
{"data":{"values":[{"x":0,"y":0,"x2":1,"y2":1}]},"mark":{"type":"rule","strokeDash":[6,5],"color":"black","strokeWidth":1},"encoding":{"x2":{"field":"x2"},"y2":{"field":"y2"}}},
{"data":{"name":"aL"},"mark":{"type":"line","interpolate":"monotone","color":"black","strokeWidth":1}},
{"data":{"values":[{"x":0.5,"y":0,"y2":0.714}]},"mark":{"type":"rule","strokeDash":[1,3],"color":"black","strokeWidth":1},"encoding":{"y2":{"field":"y2"}}},
{"data":{"values":[{"x":0.5,"y":0.046,"t":"feed"}]},"mark":{"type":"text","fontSize":26,"baseline":"middle","color":"black"},"encoding":{"text":{"field":"t"}}},
{"data":{"values":[{"x":0,"y":0,"x2":1,"y2":1}]},"mark":{"type":"rect","filled":false,"color":"black","strokeWidth":1.5},"encoding":{"x2":{"field":"x2"},"y2":{"field":"y2"}}}
]},
{"width":371,"height":371,
"encoding":{"x":{"field":"x","type":"quantitative","scale":{"domain":[0,1],"nice":false,"zero":false},"axis":{"values":[0,1],"title":"X [–]","labelFontSize":28,"labelPadding":10,"titlePadding":0,"labelFlush":false}},
"y":{"field":"y","type":"quantitative","scale":{"domain":[0,1],"nice":false,"zero":false,"reverse":true},"axis":{"values":[0,1],"title":"z [–]","labelFontSize":28,"labelPadding":9,"titlePadding":0}}},
"layer":[
{"data":{"values":[{"x":0.5,"y":0,"y2":1}]},"mark":{"type":"rule","strokeDash":[1,3],"color":"black","strokeWidth":1},"encoding":{"y2":{"field":"y2"}}},
{"data":{"name":"aR"},"mark":{"type":"line","interpolate":"catmull-rom","clip":true,"color":"black"},"encoding":{"detail":{"field":"c","type":"nominal"},"order":{"value":null},"strokeWidth":{"condition":{"test":"datum.c==0||datum.c==13","value":2},"value":1}}},
{"data":{"values":[{"x":0.5,"y":0.054,"t":"feed"}]},"mark":{"type":"text","fontSize":26,"baseline":"middle","color":"black"},"encoding":{"text":{"field":"t"}}},
{"data":{"values":[{"x":0.741,"y":0.092,"y2":0.475},{"x":0.245,"y":0.466,"y2":1.05}]},"mark":{"type":"rule","color":"black","strokeWidth":1},"encoding":{"y2":{"field":"y2"}}},
{"data":{"values":[{"x":0.741,"y":0.517},{"x":0.245,"y":1.092}]},"mark":{"type":"point","shape":"M-0.5,-1L0.5,-1L0,1Z","size":1024,"filled":true,"fill":"white","stroke":"black","strokeWidth":1.5,"opacity":1}},
{"data":{"values":[{"x":0,"y":0,"x2":1,"y2":1}]},"mark":{"type":"rect","filled":false,"color":"black","strokeWidth":1.5},"encoding":{"x2":{"field":"x2"},"y2":{"field":"y2"}}}
]}
],"spacing":145,"bounds":"flush"},
{"spacing":-2,"vconcat":[
{"hconcat":[
{"width":370,"height":371,
"title":{"text":"b) A is light boiling","anchor":"middle","frame":"group","dx":228,"offset":17},
"encoding":{"x":{"field":"x","type":"quantitative","scale":{"domain":[0,1],"nice":false,"zero":false},"axis":{"values":[0,1],"title":"X [–]","labelFontSize":22,"labelPadding":7,"titlePadding":-4,"labelFlush":false}},
"y":{"field":"y","type":"quantitative","scale":{"domain":[0,1],"nice":false,"zero":false},"axis":{"values":[0,1],"title":"Y [–]","labelFontSize":22,"labelPadding":9,"titlePadding":2}}},
"layer":[
{"data":{"values":[{"x":0.79,"y":0,"x2":1,"y2":1}]},"mark":{"type":"rect","fill":"#a0a0a0","stroke":"#555555","strokeWidth":1},"encoding":{"x2":{"field":"x2"},"y2":{"field":"y2"}}},
{"data":{"values":[{"x":0,"y":0,"x2":1,"y2":1}]},"mark":{"type":"rule","strokeDash":[6,5],"color":"black","strokeWidth":1},"encoding":{"x2":{"field":"x2"},"y2":{"field":"y2"}}},
{"data":{"name":"bL"},"mark":{"type":"line","interpolate":"monotone","color":"black","strokeWidth":1}},
{"data":{"values":[{"x":0.5,"y":0,"y2":0.609}]},"mark":{"type":"rule","strokeDash":[1,3],"color":"black","strokeWidth":1},"encoding":{"y2":{"field":"y2"}}},
{"data":{"values":[{"x":0.5,"y":0.048,"t":"feed"}]},"mark":{"type":"text","fontSize":26,"baseline":"middle","color":"black"},"encoding":{"text":{"field":"t"}}},
{"data":{"values":[{"x":0.79,"y":0.79}]},"mark":{"type":"point","shape":"circle","size":169,"filled":false,"color":"black","strokeWidth":1,"opacity":1}},
{"data":{"values":[{"x":0,"y":0,"x2":1,"y2":1}]},"mark":{"type":"rect","filled":false,"color":"black","strokeWidth":1.5},"encoding":{"x2":{"field":"x2"},"y2":{"field":"y2"}}}
]},
{"width":371,"height":371,
"encoding":{"x":{"field":"x","type":"quantitative","scale":{"domain":[0,1],"nice":false,"zero":false},"axis":{"values":[0,1],"title":"X [–]","labelFontSize":28,"labelPadding":10,"titlePadding":0,"labelFlush":false}},
"y":{"field":"y","type":"quantitative","scale":{"domain":[0,1],"nice":false,"zero":false,"reverse":true},"axis":{"values":[0,1],"title":"z [–]","labelFontSize":28,"labelPadding":9,"titlePadding":0}}},
"layer":[
{"data":{"values":[{"x":0.79,"y":0,"x2":1,"y2":1}]},"mark":{"type":"rect","fill":"#a0a0a0","stroke":"#555555","strokeWidth":1},"encoding":{"x2":{"field":"x2"},"y2":{"field":"y2"}}},
{"data":{"values":[{"x":0.5,"y":0,"y2":1}]},"mark":{"type":"rule","strokeDash":[1,3],"color":"black","strokeWidth":1},"encoding":{"y2":{"field":"y2"}}},
{"data":{"name":"bR"},"mark":{"type":"line","interpolate":"catmull-rom","clip":true,"color":"black"},"encoding":{"detail":{"field":"c","type":"nominal"},"order":{"value":null},"strokeWidth":{"condition":{"test":"datum.c==0||datum.c==15","value":2},"value":1}}},
{"data":{"values":[{"x":0.5,"y":0.056,"t":"feed"}]},"mark":{"type":"text","fontSize":26,"baseline":"middle","color":"black"},"encoding":{"text":{"field":"t"}}},
{"data":{"values":[{"x":0.645,"y":0.048,"y2":0.594},{"x":0.245,"y":0.465,"y2":1.051}]},"mark":{"type":"rule","color":"black","strokeWidth":1},"encoding":{"y2":{"field":"y2"}}},
{"data":{"values":[{"x":0.645,"y":0.637},{"x":0.245,"y":1.093}]},"mark":{"type":"point","shape":"M-0.5,-1L0.5,-1L0,1Z","size":1024,"filled":true,"fill":"white","stroke":"black","strokeWidth":1.5,"opacity":1}},
{"data":{"values":[{"x":0,"y":0,"x2":1,"y2":1}]},"mark":{"type":"rect","filled":false,"color":"black","strokeWidth":1.5},"encoding":{"x2":{"field":"x2"},"y2":{"field":"y2"}}}
]}
],"spacing":145,"bounds":"flush"},
{"hconcat":[
{"width":370,"height":371,
"title":{"text":"c) A is heavy boiling","anchor":"middle","frame":"group","dx":228,"offset":18},
"encoding":{"x":{"field":"x","type":"quantitative","scale":{"domain":[0,1],"nice":false,"zero":false},"axis":{"values":[0,1],"title":"X [–]","labelFontSize":22,"labelPadding":7,"titlePadding":-4,"labelFlush":false}},
"y":{"field":"y","type":"quantitative","scale":{"domain":[0,1],"nice":false,"zero":false},"axis":{"values":[0,1],"title":"Y [–]","labelFontSize":22,"labelPadding":9,"titlePadding":2}}},
"layer":[
{"data":{"values":[{"x":0,"y":0,"x2":0.21,"y2":1}]},"mark":{"type":"rect","fill":"#a0a0a0","stroke":"#222222","strokeWidth":1},"encoding":{"x2":{"field":"x2"},"y2":{"field":"y2"}}},
{"data":{"values":[{"x":0,"y":0,"x2":1,"y2":1}]},"mark":{"type":"rule","strokeDash":[6,5],"color":"black","strokeWidth":1},"encoding":{"x2":{"field":"x2"},"y2":{"field":"y2"}}},
{"data":{"name":"cL"},"mark":{"type":"line","interpolate":"monotone","color":"black","strokeWidth":1}},
{"data":{"values":[{"x":0.5,"y":0,"y2":0.606}]},"mark":{"type":"rule","strokeDash":[1,3],"color":"black","strokeWidth":1},"encoding":{"y2":{"field":"y2"}}},
{"data":{"values":[{"x":0.5,"y":0.051,"t":"feed"}]},"mark":{"type":"text","fontSize":26,"baseline":"middle","color":"black"},"encoding":{"text":{"field":"t"}}},
{"data":{"values":[{"x":0.21,"y":0.21}]},"mark":{"type":"point","shape":"circle","size":169,"filled":false,"color":"black","strokeWidth":1,"opacity":1}},
{"data":{"values":[{"x":0,"y":0,"x2":1,"y2":1}]},"mark":{"type":"rect","filled":false,"color":"black","strokeWidth":1.5},"encoding":{"x2":{"field":"x2"},"y2":{"field":"y2"}}}
]},
{"width":371,"height":371,
"encoding":{"x":{"field":"x","type":"quantitative","scale":{"domain":[0,1],"nice":false,"zero":false},"axis":{"values":[0,1],"title":"X [–]","labelFontSize":28,"labelPadding":10,"titlePadding":0,"labelFlush":false}},
"y":{"field":"y","type":"quantitative","scale":{"domain":[0,1],"nice":false,"zero":false,"reverse":true},"axis":{"values":[0,1],"title":"z [–]","labelFontSize":28,"labelPadding":9,"titlePadding":0}}},
"layer":[
{"data":{"values":[{"x":0,"y":0,"x2":0.211,"y2":1}]},"mark":{"type":"rect","fill":"#a0a0a0","stroke":"#222222","strokeWidth":1},"encoding":{"x2":{"field":"x2"},"y2":{"field":"y2"}}},
{"data":{"values":[{"x":0.5,"y":0,"y2":1}]},"mark":{"type":"rule","strokeDash":[1,3],"color":"black","strokeWidth":1},"encoding":{"y2":{"field":"y2"}}},
{"data":{"name":"cR"},"mark":{"type":"line","interpolate":"catmull-rom","clip":true,"color":"black"},"encoding":{"detail":{"field":"c","type":"nominal"},"order":{"value":null},"strokeWidth":{"condition":{"test":"datum.c==0||datum.c==15","value":2},"value":1}}},
{"data":{"values":[{"x":0.5,"y":0.954,"t":"feed"}]},"mark":{"type":"text","fontSize":26,"baseline":"middle","color":"black"},"encoding":{"text":{"field":"t"}}},
{"data":{"values":[{"x":0.77,"y":0.493,"y2":-0.062},{"x":0.345,"y":0.963,"y2":0.461}]},"mark":{"type":"rule","color":"black","strokeWidth":1},"encoding":{"y2":{"field":"y2"}}},
{"data":{"values":[{"x":0.77,"y":-0.105},{"x":0.345,"y":0.418}]},"mark":{"type":"point","shape":"M-0.5,1L0.5,1L0,-1Z","size":1024,"filled":true,"fill":"white","stroke":"black","strokeWidth":1.5,"opacity":1}},
{"data":{"values":[{"x":0,"y":0,"x2":1,"y2":1}]},"mark":{"type":"rect","filled":false,"color":"black","strokeWidth":1.5},"encoding":{"x2":{"field":"x2"},"y2":{"field":"y2"}}}
]}
],"spacing":145,"bounds":"flush"}
]}
]
}
